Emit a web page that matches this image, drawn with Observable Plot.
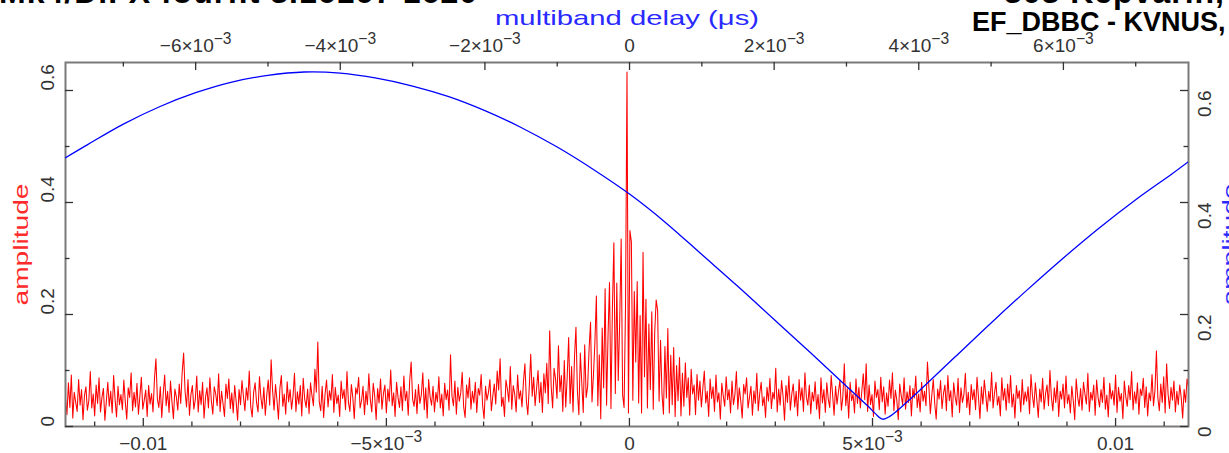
<!DOCTYPE html>
<html><head><meta charset="utf-8">
<script src="https://cdn.jsdelivr.net/npm/d3@7"></script>
<script src="https://cdn.jsdelivr.net/npm/@observablehq/plot@0.6"></script>
<style>
html,body{margin:0;padding:0;background:#fff;}
#wrap{position:relative;width:1229px;height:453px;overflow:hidden;background:#fff;}
#wrap svg{position:absolute;left:0;top:0;}
.ttl{position:absolute;font-family:"Liberation Sans",Arial,sans-serif;font-weight:bold;color:#000;white-space:nowrap;line-height:1;}
</style></head><body>
<div id="wrap"></div>
<script>
// ---------- data ----------
const titleLeft1 = "Mk4/DiFX fourfit 3.16167 1620";
const titleRight1 = "303 Kepvarin,";
const titleRight2 = "EF_DBBC - KVNUS,";
const xLabelBottom = "singleband delay (μs)";
const xLabelTop = "multiband delay (μs)";
const yLabel = "amplitude";

// singleband delay grid (μs): first lag and lag step
const sbdStart = -0.0116;
const sbdStep = 0.00003;
// amplitude vs singleband delay (red)
const ampSbd = [
.050,.021,.078,.034,.092,.015,.061,.043,.027,.084,.038,.066,.012,.055,.071,.029,.046,.098,.033,.058,
.019,.074,.041,.087,.026,.052,.068,.011,.045,.079,.036,.063,.024,.091,.048,.017,.072,.039,.057,.030,
.083,.044,.013,.069,.052,.096,.028,.061,.035,.077,.022,.054,.088,.031,.047,.065,.018,.073,.040,.059,
.026,.085,.121,.049,.034,.071,.016,.058,.092,.037,.063,.025,.081,.044,.014,.067,.053,.029,.076,.041,
.097,.131,.062,.035,.084,.020,.057,.073,.031,.048,.090,.026,.064,.039,.079,.015,.052,.069,.033,.087,
.046,.022,.071,.058,.037,.094,.027,.063,.041,.018,.076,.050,.085,.032,.060,.024,.073,.045,.011,.066,
.039,.082,.054,.028,.069,.047,.099,.035,.017,.061,.078,.043,.026,.089,.051,.032,.070,.020,.056,.083,
.038,.119,.064,.029,.075,.047,.013,.068,.091,.036,.058,.022,.080,.044,.066,.031,.054,.095,.027,.062,
.040,.073,.019,.086,.049,.034,.067,.023,.078,.055,.037,.102,.061,.151,.044,.028,.072,.016,.059,.083,
.035,.064,.047,.093,.025,.070,.041,.056,.018,.081,.050,.066,.030,.098,.043,.027,.075,.052,.014,.069,
.058,.088,.033,.046,.072,.021,.063,.039,.094,.048,.026,.077,.055,.012,.068,.042,.085,.031,.059,.074,
.024,.067,.045,.101,.037,.060,.018,.079,.052,.034,.071,.028,.090,.046,.063,.020,.082,.115,.049,.036,
.066,.023,.075,.041,.057,.096,.030,.069,.015,.084,.053,.038,.072,.026,.061,.044,.089,.033,.058,.019,
.077,.048,.065,.029,.128,.054,.037,.081,.022,.070,.045,.060,.097,.035,.016,.074,.051,.087,.031,.063,
.042,.079,.025,.068,.056,.093,.038,.014,.072,.047,.061,.084,.028,.055,.076,.040,.099,.065,.121,.036,
.052,.018,.083,.067,.044,.107,.031,.073,.058,.026,.092,.049,.064,.035,.080,.112,.046,.021,.071,.129,
.054,.088,.037,.068,.100,.043,.079,.025,.094,.060,.113,.041,.171,.072,.033,.104,.085,.050,.144,.062,
.091,.027,.118,.035,.089,.159,.041,.107,.026,.124,.177,.063,.021,.131,.078,.025,.146,.052,.071,.138,
.186,.044,.092,.151,.233,.037,.128,.014,.176,.069,.246,.038,.163,.257,.032,.211,.328,.059,.256,.082,
.187,.335,.056,.034,.218,.633,.024,.350,.330,.047,.241,.115,.259,.042,.198,.024,.311,.089,.227,.033,
.183,.066,.205,.031,.168,.226,.207,.045,.154,.058,.022,.143,.051,.175,.024,.127,.039,.141,.018,.109,
.046,.123,.019,.095,.036,.114,.052,.087,.020,.102,.058,.074,.021,.093,.047,.081,.035,.068,.099,.042,
.063,.018,.085,.050,.071,.027,.092,.044,.060,.013,.077,.055,.036,.089,.048,.066,.024,.081,.039,.057,
.098,.031,.069,.046,.015,.075,.058,.087,.033,.052,.072,.020,.064,.041,.095,.028,.059,.079,.037,.053,
.016,.070,.045,.086,.032,.061,.049,.104,.026,.067,.038,.082,.054,.011,.073,.043,.090,.029,.058,.076,
.035,.063,.019,.084,.047,.069,.027,.096,.052,.038,.074,.023,.061,.045,.080,.031,.057,.014,.087,.042,
.066,.025,.078,.049,.034,.091,.056,.020,.072,.040,.062,.083,.029,.053,.112,.037,.068,.015,.079,.046,
.058,.024,.085,.041,.070,.033,.063,.094,.048,.112,.027,.074,.039,.057,.018,.081,.052,.066,.030,.088,
.044,.071,.022,.060,.036,.083,.050,.096,.028,.065,.047,.012,.076,.055,.039,.087,.031,.062,.043,.073,
.019,.068,.051,.090,.034,.058,.026,.079,.045,.063,.037,.115,.070,.023,.056,.084,.041,.013,.067,.049,
.082,.032,.059,.074,.028,.091,.046,.064,.017,.078,.053,.038,.086,.025,.069,.043,.057,.095,.034,.061,
.021,.075,.048,.066,.030,.088,.052,.014,.071,.040,.083,.056,.027,.063,.045,.097,.033,.060,.079,.038,
.054,.019,.087,.047,.068,.029,.076,.042,.091,.035,.058,.015,.073,.050,.064,.026,.084,.039,.062,.045,
.071,.023,.093,.055,.034,.078,.048,.016,.067,.044,.086,.031,.059,.074,.037,.100,.052,.028,.069,.043,
.081,.018,.063,.049,.076,.033,.090,.041,.057,.024,.072,.046,.012,.085,.053,.036,.068,.029,.079,.058,
.040,.095,.027,.061,.047,.074,.020,.083,.052,.035,.066,.043,.088,.031,.056,.017,.077,.049,.064,.038,
.092,.025,.070,.045,.059,.014,.081,.053,.036,.073,.048,.098,.030,.062,.041,.078,.022,.067,.055,.086,
.034,.071,.019,.060,.046,.093,.037,.064,.135,.051,.028,.076,.043,.089,.024,.112,.058,.032,.070,.047,
.081,.026,.063,.039,.074,.052,.015,.066,.043,.085,.070
];

// amplitude vs multiband delay (blue)
const mbd = [-0.0078,-0.0075,-0.0070,-0.0065,-0.0060,-0.0055,-0.0050,-0.0045,-0.0040,-0.0035,-0.0030,-0.0025,-0.0020,-0.0015,-0.0010,-0.0005,0,0.0005,0.0010,0.0015,0.0020,0.0025,0.0030,0.0033,0.0034,0.0035,0.0036,0.0037,0.0040,0.0045,0.0050,0.0055,0.0060,0.0065,0.0070,0.0075,0.00773];
const ampMbd = [.480,.503,.540,.571,.596,.615,.627,.633,.631,.622,.608,.589,.564,.534,.499,.459,.415,.364,.307,.250,.191,.132,.072,.036,.023,.013,.018,.028,.063,.124,.185,.244,.301,.355,.405,.451,.473];

// axes
const sbdDomain = [-0.0116, 0.0115];
const mbdDomain = [-0.0078, 0.00773];
const ampDomain = [0, 0.65];
const sbdMajor = [-0.01, -0.005, 0, 0.005, 0.01];
const sbdMajorLabels = ["−0.01", "−5×10^−3", "0", "5×10^−3", "0.01"];
const sbdMinor = [-0.011,-0.009,-0.008,-0.007,-0.006,-0.004,-0.003,-0.002,-0.001,0.001,0.002,0.003,0.004,0.006,0.007,0.008,0.009,0.011];
const mbdMajor = [-0.006,-0.004,-0.002,0,0.002,0.004,0.006];
const mbdMajorLabels = ["−6×10^−3","−4×10^−3","−2×10^−3","0","2×10^−3","4×10^−3","6×10^−3"];
const mbdMinor = [-0.007,-0.005,-0.003,-0.001,0.001,0.003,0.005,0.007];
const ampMajor = [0, 0.2, 0.4, 0.6];
const ampMajorLabels = ["0", "0.2", "0.4", "0.6"];
const ampMinor = [0.1, 0.3, 0.5];

// ---------- layout ----------
const W = 1229, H = 453, mL = 65, mR = 41, mT = 62, mB = 27;
const iW = W - mL - mR, iH = H - mT - mB;
const majLen = 8, minLen = 4.5;
const font = "Liberation Sans, Arial, sans-serif";
const tickCol = "#333", frameCol = "#7a7a7a";
const red = "#ff0000", blue = "#0000ff";

const redData = ampSbd.map((a, i) => ({sbd: sbdStart + i * sbdStep, amp: a}));
const blueData = mbd.map((m, i) => ({mbd: m, amp: ampMbd[i]}));

const common = {width: W, height: H, marginLeft: mL, marginRight: mR, marginTop: mT, marginBottom: mB,
  style: {background: "transparent", fontFamily: font, overflow: "visible"}};

const plotA = Plot.plot({
  ...common,
  x: {domain: sbdDomain, axis: null},
  y: {domain: ampDomain, axis: null},
  marks: [
    Plot.line(redData, {x: "sbd", y: "amp", stroke: red, strokeWidth: 1.05, clip: true}),
    Plot.frame({stroke: frameCol, strokeWidth: 2}),
    Plot.tickX(sbdMajor, {x: d => d, insetTop: iH - majLen, stroke: tickCol, strokeWidth: 1.3}),
    Plot.tickX(sbdMinor, {x: d => d, insetTop: iH - minLen, stroke: tickCol, strokeWidth: 1.3}),
    Plot.tickY(ampMajor, {y: d => d, insetRight: iW - majLen, stroke: tickCol, strokeWidth: 1.3}),
    Plot.tickY(ampMinor, {y: d => d, insetRight: iW - minLen, stroke: tickCol, strokeWidth: 1.3}),
    Plot.text(sbdMajor, {x: d => d, text: (d, i) => sbdMajorLabels[i], frameAnchor: "bottom", lineAnchor: "top", dy: 9.5, fontSize: 19, fill: tickCol, fontFamily: font}),
    Plot.text(ampMajor, {y: d => d, text: (d, i) => ampMajorLabels[i], frameAnchor: "left", lineAnchor: "bottom", rotate: -90, dx: -12, fontSize: 19, fill: tickCol, fontFamily: font}),
    Plot.text([yLabel], {text: d => d, frameAnchor: "left", lineAnchor: "top", rotate: -90, dx: -52, fontSize: 21, fill: "#ff2a2a", fontFamily: font}),
    Plot.text([xLabelBottom], {text: d => d, frameAnchor: "bottom", lineAnchor: "top", dy: 28.5, fontSize: 21, fill: "#ff2a2a", fontFamily: font})
  ]
});

const plotB = Plot.plot({
  ...common,
  x: {domain: mbdDomain, axis: null},
  y: {domain: ampDomain, axis: null},
  marks: [
    Plot.line(blueData, {x: "mbd", y: "amp", stroke: blue, strokeWidth: 1.3, curve: "catmull-rom", clip: true}),
    Plot.tickX(mbdMajor, {x: d => d, insetBottom: iH - majLen, stroke: tickCol, strokeWidth: 1.3}),
    Plot.tickX(mbdMinor, {x: d => d, insetBottom: iH - minLen, stroke: tickCol, strokeWidth: 1.3}),
    Plot.tickY(ampMajor, {y: d => d, insetLeft: iW - majLen, stroke: tickCol, strokeWidth: 1.3}),
    Plot.tickY(ampMinor, {y: d => d, insetLeft: iW - minLen, stroke: tickCol, strokeWidth: 1.3}),
    Plot.text(mbdMajor, {x: d => d, text: (d, i) => mbdMajorLabels[i], frameAnchor: "top", lineAnchor: "bottom", dy: -11, fontSize: 19, fill: tickCol, fontFamily: font}),
    Plot.text(ampMajor, {y: d => d, text: (d, i) => ampMajorLabels[i], frameAnchor: "right", lineAnchor: "top", rotate: -90, dx: 9, fontSize: 19, fill: tickCol, fontFamily: font}),
    Plot.text([xLabelTop], {text: d => d, frameAnchor: "top", lineAnchor: "bottom", dy: -38, fontSize: 21, fill: "#2a2aff", fontFamily: font}),
    Plot.text([yLabel], {text: d => d, frameAnchor: "right", lineAnchor: "top", rotate: -90, dx: 34, fontSize: 21, fill: "#2a2aff", fontFamily: font})
  ]
});

// superscripts and wide (Hershey-like) axis titles
function finish(svg) {
  d3.select(svg).selectAll("text").each(function () {
    const t = this.textContent;
    const s = d3.select(this);
    if (t.includes("^")) {
      const [base, exp] = t.split("^");
      s.text(null);
      s.append("tspan").text(base);
      s.append("tspan").attr("dy", "-0.5em").attr("font-size", "0.82em").text(exp);
    } else if (t === yLabel) {
      // stretched along its own (rotated) direction, centred by hand
      s.attr("text-anchor", "start").attr("x", -61)
       .attr("textLength", 122).attr("lengthAdjust", "spacingAndGlyphs");
    } else if (t === xLabelTop || t === xLabelBottom) {
      s.attr("textLength", 264).attr("lengthAdjust", "spacingAndGlyphs");
    }
  });
}
finish(plotA); finish(plotB);

const wrap = document.getElementById("wrap");
wrap.appendChild(plotA);
wrap.appendChild(plotB);

function addTitle(text, css) {
  const d = document.createElement("div");
  d.className = "ttl";
  d.textContent = text;
  Object.assign(d.style, css);
  wrap.appendChild(d);
}
addTitle(titleLeft1, {right: "751px", top: "-24px", fontSize: "32px", letterSpacing: "1px"});
addTitle(titleRight1, {right: "4px", top: "-24px", fontSize: "32px", letterSpacing: "1px"});
addTitle(titleRight2, {left: "972px", top: "9px", fontSize: "27px"});
</script>
</body></html>
